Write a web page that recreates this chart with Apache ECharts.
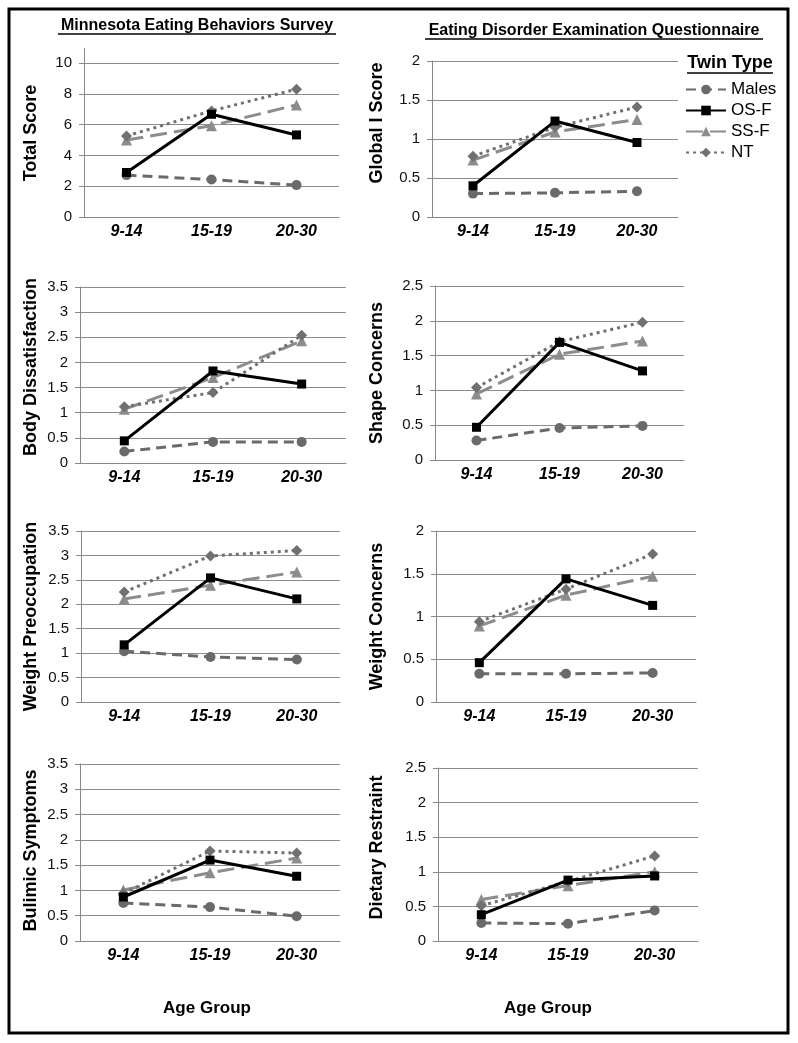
<!DOCTYPE html>
<html>
<head>
<meta charset="UTF-8">
<title>Eating measures by twin type and age group</title>
<script src="https://cdn.jsdelivr.net/npm/echarts@6/dist/echarts.min.js"></script>
<style>
  html, body { margin: 0; padding: 0; background: #fff; }
  #main { width: 798px; height: 1043px; }
</style>
</head>
<body>
<div id="main"></div>
<script>
// categories and groups
var ageGroups = ['9-14', '15-19', '20-30'];
var twinTypes = ['Males', 'OS-F', 'SS-F', 'NT'];

// each panel: rows are Males, OS-F, SS-F, NT (values per age group)
var totalScore = [[2.72, 2.43, 2.07], [2.89, 6.67, 5.33], [5.0, 5.93, 7.28], [5.26, 6.89, 8.3]];
var globalScore = [[0.30, 0.31, 0.33], [0.40, 1.23, 0.955], [0.73, 1.09, 1.25], [0.78, 1.15, 1.41]];
var bodyDissatisfaction = [[0.23, 0.42, 0.42], [0.44, 1.83, 1.57], [1.07, 1.70, 2.43], [1.12, 1.40, 2.54]];
var shapeConcerns = [[0.28, 0.46, 0.49], [0.47, 1.69, 1.28], [0.95, 1.52, 1.71], [1.04, 1.70, 1.98]];
var weightPreoccupation = [[1.04, 0.92, 0.87], [1.17, 2.54, 2.11], [2.11, 2.39, 2.66], [2.25, 2.99, 3.10]];
var weightConcerns = [[0.33, 0.33, 0.34], [0.46, 1.44, 1.13], [0.89, 1.25, 1.47], [0.94, 1.32, 1.73]];
var bulimicSymptoms = [[0.75, 0.67, 0.49], [0.87, 1.60, 1.28], [1.01, 1.35, 1.64], [0.94, 1.78, 1.74]];
var dietaryRestraint = [[0.26, 0.25, 0.44], [0.38, 0.88, 0.94], [0.60, 0.80, 1.00], [0.51, 0.86, 1.23]];

var FONT = 'Liberation Sans, Arial, sans-serif';

// panel list (left column = MEBS, right column = EDE-Q)
var panels = [
  { name: 'Total Score', data: totalScore, max: 10, interval: 2 },
  { name: 'Global I Score', data: globalScore, max: 2, interval: 0.5 },
  { name: 'Body Dissatisfaction', data: bodyDissatisfaction, max: 3.5, interval: 0.5 },
  { name: 'Shape Concerns', data: shapeConcerns, max: 2.5, interval: 0.5 },
  { name: 'Weight Preoccupation', data: weightPreoccupation, max: 3.5, interval: 0.5 },
  { name: 'Weight Concerns', data: weightConcerns, max: 2, interval: 0.5 },
  { name: 'Bulimic Symptoms', data: bulimicSymptoms, max: 3.5, interval: 0.5 },
  { name: 'Dietary Restraint', data: dietaryRestraint, max: 2.5, interval: 0.5 }
];

// plot boxes: left, top, width, height, y-name gap, y-name shift up (px)
var boxes = [
  [84, 63, 255, 154, 44, 7],
  [432, 61, 246, 156, 46, 16],
  [80, 287, 266, 176, 40, 8],
  [435, 286, 249, 174, 49, 0],
  [81, 531, 259, 171, 41, 0],
  [436, 531, 260, 171, 50, 0],
  [80, 764, 260, 177, 40, 2],
  [438, 768, 260, 173, 52, 7]
];

var styles = [
  { color: '#6a6a6a', dash: [10, 6], symbol: 'circle', size: 10 },
  { color: '#000000', dash: 'solid', symbol: 'rect', size: 9 },
  { color: '#8c8c8c', dash: [17, 7], symbol: 'triangle', size: 11 },
  { color: '#707070', dash: [3, 4], symbol: 'diamond', size: 11 }
];

var grids = [], xAxes = [], yAxes = [], series = [];
panels.forEach(function (p, i) {
  var b = boxes[i];
  var bottomRow = i >= 6;
  grids.push({ left: b[0], top: b[1], width: b[2], height: b[3] });
  xAxes.push({
    type: 'category',
    gridIndex: i,
    data: ageGroups,
    axisLine: { lineStyle: { color: '#888', width: 1 } },
    axisTick: { length: 5, lineStyle: { color: '#888' } },
    axisLabel: { margin: 7, color: '#000', fontSize: 16, fontWeight: 'bold', fontStyle: 'italic', fontFamily: FONT },
    name: bottomRow ? 'Age Group' : '',
    nameLocation: 'middle',
    nameGap: 59,
    nameTextStyle: { color: '#000', fontSize: 17, fontWeight: 'bold', fontFamily: FONT, padding: i === 7 ? [0, 40, 0, 0] : [0, 6, 0, 0] }
  });
  yAxes.push({
    type: 'value',
    gridIndex: i,
    min: 0,
    max: p.max,
    interval: p.interval,
    axisLine: { show: true, lineStyle: { color: '#888', width: 1 } },
    axisTick: { show: true, length: 5, lineStyle: { color: '#888' } },
    splitLine: { lineStyle: { color: '#8c8c8c', width: 1 } },
    axisLabel: { margin: 12, color: '#111', fontSize: 15, fontFamily: FONT },
    name: p.name,
    nameLocation: 'middle',
    nameGap: b[4],
    nameTextStyle: { color: '#000', fontSize: 18, fontWeight: 'bold', fontFamily: FONT, padding: [0, 0, 0, b[5] * 2] }
  });
  p.data.forEach(function (vals, k) {
    var s = styles[k];
    series.push({
      name: twinTypes[k],
      type: 'line',
      xAxisIndex: i,
      yAxisIndex: i,
      data: vals,
      symbol: s.symbol,
      symbolSize: s.size,
      z: k === 1 ? 4 : 3,
      itemStyle: { color: s.color },
      lineStyle: { color: s.color, width: 3, type: s.dash },
      emphasis: { disabled: true },
      animation: false
    });
  });
});

var myChart = echarts.init(document.getElementById('main'));
myChart.setOption({
  animation: false,
  grid: grids,
  xAxis: xAxes,
  yAxis: yAxes,
  series: series,
  legend: {
    data: twinTypes,
    orient: 'vertical',
    left: 680,
    top: 76,
    itemWidth: 40,
    itemHeight: 12,
    itemGap: 4,
    textStyle: { color: '#000', fontSize: 17, fontFamily: FONT },
    selectedMode: false
  },
  graphic: [
    // frame
    { type: 'rect', shape: { x: 9, y: 9, width: 779, height: 1024 }, style: { fill: 'none', stroke: '#000', lineWidth: 3 } },
    // column titles
    { type: 'text', x: 197, y: 26, style: { text: 'Minnesota Eating Behaviors Survey', align: 'center', verticalAlign: 'middle', fontSize: 16, fontWeight: 'bold', fontFamily: FONT, fill: '#000' } },
    { type: 'line', shape: { x1: 58, y1: 34, x2: 336, y2: 34 }, style: { stroke: '#000', lineWidth: 1.5 } },
    { type: 'text', x: 594, y: 31, style: { text: 'Eating Disorder Examination Questionnaire', align: 'center', verticalAlign: 'middle', fontSize: 16, fontWeight: 'bold', fontFamily: FONT, fill: '#000' } },
    { type: 'line', shape: { x1: 425, y1: 39, x2: 763, y2: 39 }, style: { stroke: '#000', lineWidth: 1.5 } },
    // legend heading
    { type: 'text', x: 730, y: 63, style: { text: 'Twin Type', align: 'center', verticalAlign: 'middle', fontSize: 18, fontWeight: 'bold', fontFamily: FONT, fill: '#000' } },
    { type: 'line', shape: { x1: 687, y1: 73, x2: 773, y2: 73 }, style: { stroke: '#000', lineWidth: 1.5 } },
    // first y axis runs a little above its top gridline
    { type: 'line', shape: { x1: 84.5, y1: 48, x2: 84.5, y2: 63 }, style: { stroke: '#888', lineWidth: 1 } }
  ]
});
</script>
</body>
</html>
